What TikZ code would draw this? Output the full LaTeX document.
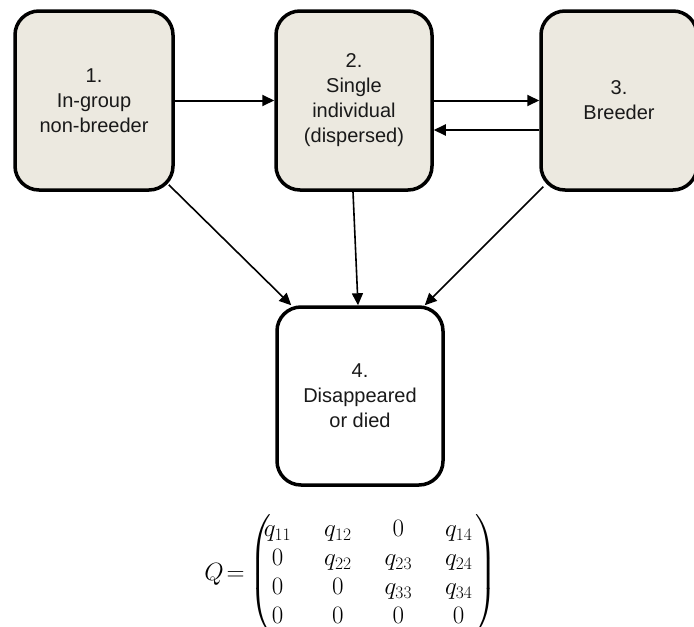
\RequirePackage{fix-cm}
\documentclass[tikz,border=0pt]{standalone}
\usepackage{amsmath}
\usepackage{fontspec}
\setmainfont{Liberation Sans}
\usetikzlibrary{arrows.meta}
\definecolor{boxfill}{RGB}{236,233,224}

\begin{document}
\begin{tikzpicture}[x=1pt,y=-1pt,
  state/.style={draw=black, line width=3.5pt, rounded corners=24pt,
    fill=boxfill, minimum width=158pt, minimum height=179pt,
    align=center, inner sep=0pt, text=black!90,
    font=\fontsize{20}{25}\selectfont},
  flow/.style={-{Triangle[length=12pt,width=11pt]}, line width=2pt},
  drop/.style={-{Triangle[length=12pt,width=11pt]}, line width=1.6pt},
  mathtext/.style={inner sep=0pt, font=\fontsize{25}{29}\selectfont}
]
\useasboundingbox (0,0) rectangle (694,627);

% the four states
\node[state] (b1) at (94,100.5) {1.\\In-group\\non-breeder};
\node[state, minimum width=156pt] (b2) at (354,100.5) {2.\\Single\\individual\\(dispersed)};
\node[state, minimum width=156pt] (b3) at (619,100.5) {3.\\Breeder};
\node[state, fill=white, minimum width=166pt, minimum height=178pt] (b4) at (360,396) {4.\\Disappeared\\or died};

% transitions between living states
\draw[flow] (b1.east) -- (b2.west);
\draw[flow] (b2.east) -- (b3.west);
\draw[flow] ([yshift=-29.5pt]b3.west) -- ([yshift=-29.5pt]b2.east);

% transitions to the absorbing state
\draw[drop] ([shift={(-6,-7)}]b1.south east) -- ([xshift=16pt]b4.north west);
\draw[drop] ([xshift=-1pt]b2.south) -- ([xshift=-2pt]b4.north);
\draw[drop] ([shift={(4,-5)}]b3.south west) -- ([xshift=-20pt]b4.north east);

% generator matrix, with the left parenthesis drawn close to the first column
\node[mathtext] (qmat) at (373,574) {%
  $\setlength{\arraycolsep}{16.5pt}\left(\mkern-5mu\begin{matrix}
    q_{11} & q_{12} & 0 & q_{14}\\
    0 & q_{22} & q_{23} & q_{24}\\
    0 & 0 & q_{33} & q_{34}\\
    0 & 0 & 0 & 0
  \end{matrix}\mkern2mu\right)$};
\node[mathtext, anchor=east] (qlab) at ([xshift=-4pt]qmat.west) {$Q\mkern2mu{=}$};
\end{tikzpicture}
\end{document}
